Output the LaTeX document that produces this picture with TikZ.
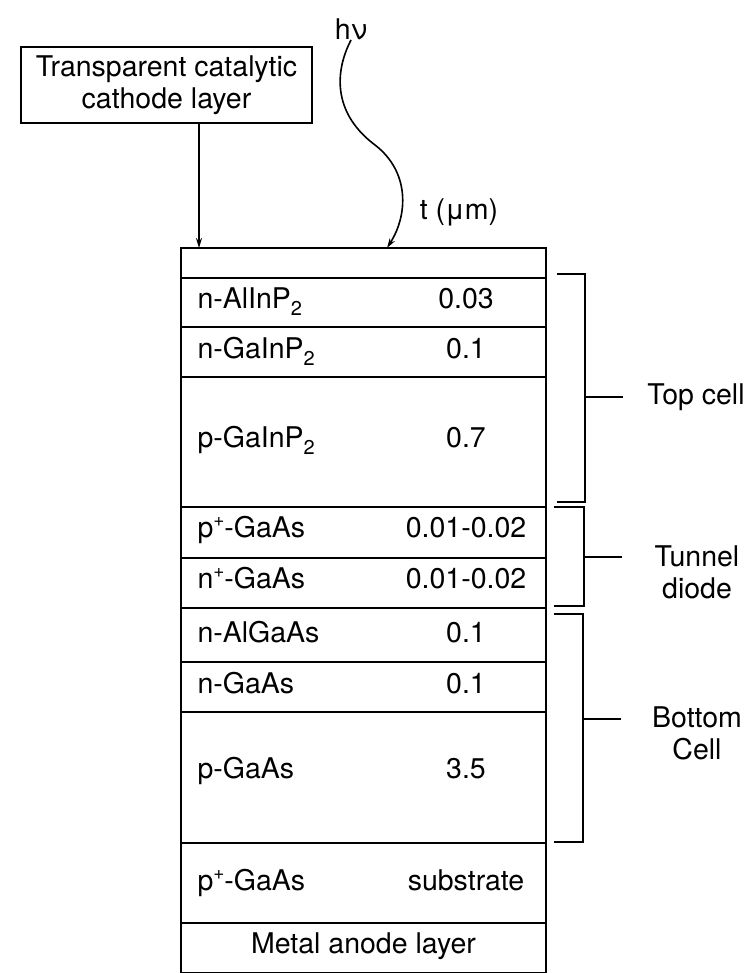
\documentclass[tikz,border=0pt]{standalone}
\usepackage{fontspec}
\setmainfont{TeX Gyre Heros}
\usetikzlibrary{arrows.meta}

\newcommand{\lowtwo}{\raisebox{-7pt}{\fontsize{20}{20}\selectfont 2}}
\newcommand{\hiplus}{\raisebox{11pt}{\fontsize{19}{19}\selectfont +}}

\begin{document}
\begin{tikzpicture}[x=1pt,y=-1pt,font=\fontsize{28.5}{32}\selectfont,
      layer/.style={draw,line width=2.6pt,minimum width=365pt,inner sep=0pt},
      brk/.style={line width=1.6pt},
      arr/.style={-{Stealth[length=10pt,width=6pt]},line width=1.6pt}]
    \useasboundingbox (0,0) rectangle (755,973);
    % cathode box and light
    \node[draw,line width=1.6pt,minimum width=291pt,minimum height=76pt,align=center,inner sep=0pt] (cathode) at (166.5,85) {Transparent catalytic\\cathode layer};
    \node[anchor=south,inner sep=0pt] (hv) at (351,40) {hν};
    \node (tum) at (459,212) {t (μm)};
    % layer stack
    \node[layer,minimum height=30pt] (win) at (363.5,263) {};
    \foreach \name/\ya/\yb/\yt/\lab/\val in {
        alinp/278/327/308/n-AlInP\lowtwo/0.03,
        ngainp/327/377/358/n-GaInP\lowtwo/0.1,
        pgainp/377/507/447/p-GaInP\lowtwo/0.7,
        ppgaas/507/558/537/p\hiplus-GaAs/0.01-0.02,
        npgaas/558/608/588/n\hiplus-GaAs/0.01-0.02,
        algaas/608/662/642/n-AlGaAs/0.1,
        ngaas/662/712/693/n-GaAs/0.1,
        pgaas/712/843/778/p-GaAs/3.5,
        subs/843/923/890/p\hiplus-GaAs/substrate} {
      \node[layer,minimum height={(\yb-\ya)*1pt}] (\name) at (363.5,{(\ya+\yb)/2}) {};
      \node[anchor=base west] (\name-l) at (194,\yt) {\lab};
      \node[anchor=base] (\name-v) at (466,\yt) {\val};
    }
    \node[layer,minimum height=50pt] (anode) at (363.5,948) {};
    \node[anchor=base] (anode-l) at (363.5,953) {Metal anode layer};
    % arrows onto the stack
    \coordinate (cathtip) at (199,248);
    \coordinate (hvtip) at (387,248);
    \draw[arr] (cathode.south -| cathtip) -- (cathtip);
    \draw[arr] (hv.south) .. controls (333,75) and (335,115) .. (375,145)
      .. controls (410,172) and (408,215) .. (hvtip);
    % brackets
    \draw[brk] (557,274) -| (585,502) -- (557,502);
    \draw[brk] (585,397) -- ++(38,0);
    \node (topcell) at (696,397) {Top cell};
    \draw[brk] (554,507) -| (584,606) -- (554,606);
    \draw[brk] (584,557) -- ++(38,0);
    \node[align=center] (tunnel) at (697,572) {Tunnel\\diode};
    \draw[brk] (554,614) -| (583,842) -- (554,842);
    \draw[brk] (583,719) -- ++(38,0);
    \node[align=center] (bottom) at (697,733) {Bottom\\Cell};
  \end{tikzpicture}
\end{document}
